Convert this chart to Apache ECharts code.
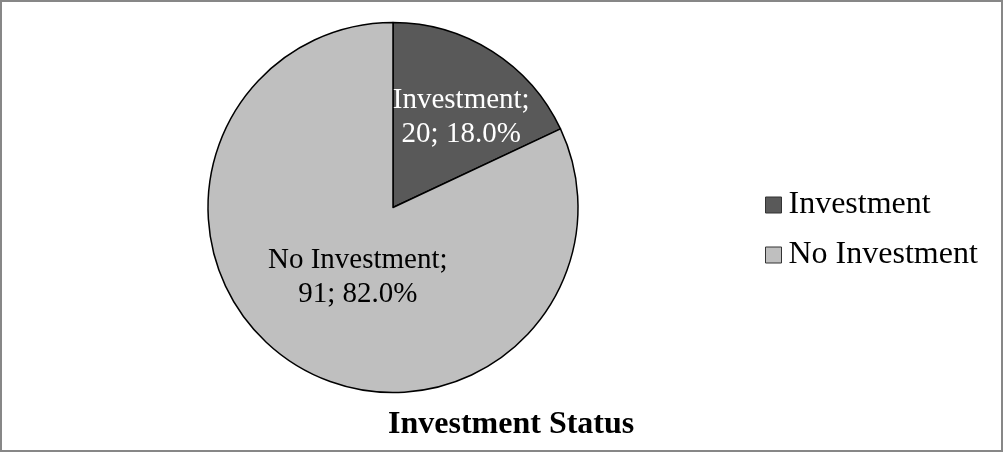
<!DOCTYPE html>
<html>
<head>
<meta charset="utf-8">
<script src="https://cdn.jsdelivr.net/npm/echarts@6/dist/echarts.min.js"></script>
<style>
  html, body { margin: 0; padding: 0; background: #fff; }
  #chart { width: 1004px; height: 454px; }
</style>
</head>
<body>
<div id="chart"></div>
<script>
// Investment status breakdown
const categories = ['Investment', 'No Investment'];
const counts = [20, 91];
const sliceColors = ['#595959', '#BFBFBF'];
const labelColors = ['#FFFFFF', '#000000'];
const chartTitle = 'Investment Status';

const serif = "'Liberation Serif', 'Times New Roman', serif";

// small nudges of each slice label away from its default inside spot
const labelNudge = [[17, -10], [16, -11]];

const chart = echarts.init(document.getElementById('chart'));

chart.setOption({
  animation: false,
  title: {
    text: chartTitle,
    left: 388,
    top: 409,
    padding: 0,
    textStyle: { fontFamily: serif, fontSize: 32, fontWeight: 'bold', color: '#000' }
  },
  legend: {
    orient: 'vertical',
    left: 765,
    top: 189,
    padding: 0,
    itemWidth: 16,
    itemHeight: 16,
    itemGap: 18,
    icon: 'rect',
    data: categories,
    textStyle: { fontFamily: serif, fontSize: 32, lineHeight: 32, color: '#000', padding: [0, 0, 0, 2] },
    itemStyle: { borderColor: '#333', borderWidth: 1 }
  },
  graphic: [{
    type: 'rect',
    shape: { x: 1, y: 1, width: 1001, height: 450 },
    style: { fill: 'none', stroke: '#878787', lineWidth: 2 },
    silent: true
  }],
  series: [{
    type: 'pie',
    center: [393, 207.5],
    radius: [0, 185],
    startAngle: 90,
    clockwise: true,
    percentPrecision: 1,
    itemStyle: { borderColor: '#000', borderWidth: 1.5 },
    emphasis: { disabled: true },
    label: {
      show: true,
      position: 'inside',
      fontFamily: serif,
      fontSize: 29,
      lineHeight: 34,
      align: 'center',
      formatter: p => p.name + ';\n' + p.value + '; ' + p.percent.toFixed(1) + '%'
    },
    labelLayout: p => ({ dx: labelNudge[p.dataIndex][0], dy: labelNudge[p.dataIndex][1] }),
    data: categories.map((name, i) => ({
      name: name,
      value: counts[i],
      itemStyle: { color: sliceColors[i] },
      label: { color: labelColors[i] }
    }))
  }]
});
</script>
</body>
</html>
